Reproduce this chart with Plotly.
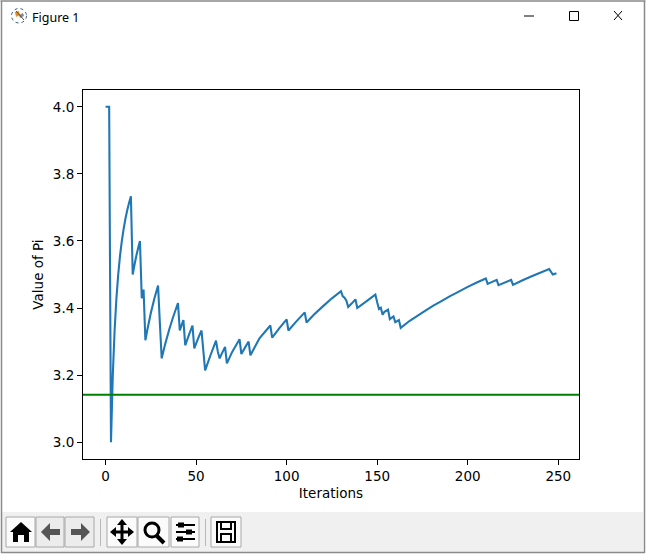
import plotly.graph_objects as go

iterations = [0, 2, 3, 4, 5, 6, 7, 8, 9, 10, 11, 12, 13, 14, 15, 16, 17, 18, 19, 20, 21, 22, 23, 25, 27, 29, 30, 31, 33, 35, 37, 40, 41, 42, 43, 44, 46, 48, 49, 51, 53, 54, 55, 58, 61, 62, 63, 64, 66, 67, 70, 74, 75, 77, 79, 80, 85, 91, 92, 96, 100, 101, 105, 110, 111, 115, 120, 125, 130, 131, 132, 133, 134, 136, 138, 139, 144, 149, 150, 151, 152, 153, 154, 156, 157, 159, 160, 162, 163, 168, 172, 176, 181, 185, 190, 194, 200, 205, 210, 211, 216, 217, 224, 225, 230, 235, 240, 245, 247, 249]
pi_values = [4.0, 4.0, 3.0, 3.2, 3.333, 3.429, 3.5, 3.556, 3.6, 3.636, 3.667, 3.692, 3.714, 3.733, 3.5, 3.529, 3.556, 3.579, 3.6, 3.429, 3.455, 3.304, 3.333, 3.385, 3.429, 3.467, 3.355, 3.25, 3.294, 3.333, 3.368, 3.415, 3.333, 3.349, 3.364, 3.289, 3.319, 3.348, 3.28, 3.308, 3.333, 3.273, 3.214, 3.26, 3.303, 3.27, 3.25, 3.262, 3.284, 3.235, 3.27, 3.307, 3.263, 3.282, 3.3, 3.259, 3.31, 3.348, 3.312, 3.34, 3.366, 3.333, 3.358, 3.387, 3.357, 3.38, 3.405, 3.429, 3.45, 3.435, 3.431, 3.422, 3.403, 3.414, 3.426, 3.4, 3.42, 3.44, 3.417, 3.397, 3.401, 3.38, 3.389, 3.395, 3.367, 3.375, 3.358, 3.364, 3.341, 3.362, 3.376, 3.39, 3.407, 3.419, 3.435, 3.446, 3.463, 3.476, 3.488, 3.472, 3.484, 3.468, 3.484, 3.469, 3.482, 3.494, 3.505, 3.516, 3.5, 3.504]
reference_pi = 3.14159
x_ticks = [0, 50, 100, 150, 200, 250]
y_ticks = [3.0, 3.2, 3.4, 3.6, 3.8, 4.0]
x_title = "Iterations"
y_title = "Value of Pi"
window_title = "Figure 1"

W, H = 646, 557
L, R, T, B = 83, 579, 90, 459
FONT = "DejaVu Sans"


def px(v):
    return (v - L) / (R - L)


def py(v):
    return (B - v) / (B - T)


shapes = []


def rect(x0, y0, x1, y1, fill=None, line=None, w=1):
    shapes.append(dict(type="rect", xref="paper", yref="paper", x0=px(x0), x1=px(x1), y0=py(y0), y1=py(y1),
                       fillcolor=fill or "rgba(0,0,0,0)", line=dict(color=line or "rgba(0,0,0,0)", width=w), layer="below"))


def seg(x0, y0, x1, y1, color="#000000", w=1):
    shapes.append(dict(type="line", xref="paper", yref="paper", x0=px(x0), x1=px(x1), y0=py(y0), y1=py(y1),
                       line=dict(color=color, width=w), layer="above"))


def poly(pts, fill="#000000"):
    path = "M " + " L ".join(f"{px(a):.5f},{py(b):.5f}" for a, b in pts) + " Z"
    shapes.append(dict(type="path", xref="paper", yref="paper", path=path, fillcolor=fill, line=dict(width=0), layer="above"))


def circle(x0, y0, x1, y1, line="#000000", w=2, dash="solid"):
    shapes.append(dict(type="circle", xref="paper", yref="paper", x0=px(x0), x1=px(x1), y0=py(y0), y1=py(y1),
                       line=dict(color=line, width=w, dash=dash), fillcolor="rgba(0,0,0,0)", layer="above"))


# window frame and toolbar
rect(2, 512, 643, 552, fill="#f0f0f0")
seg(0.5, 1, 645.5, 1, "#8a8a8a", 1.5)
seg(1.5, 1, 1.5, 553, "#8a8a8a", 1.5)
seg(644.5, 1, 644.5, 553, "#8a8a8a", 1.5)
seg(1, 552.5, 645, 552.5, "#8a8a8a", 1.5)

# title-bar controls
seg(524, 16, 534, 16, "#000000", 1)
rect(569.5, 11.5, 578.5, 20.5, line="#000000")
seg(614, 11, 622, 20, "#000000", 1)
seg(622, 11, 614, 20, "#000000", 1)

# window icon
circle(11.5, 8.5, 26.5, 23, line="#3f5f78", w=1, dash="dot")
poly([(15, 12), (19, 11), (20, 15), (16, 17)], "#e0912f")
poly([(19, 15), (23, 13), (24, 16), (20, 18)], "#8a8a8a")
seg(16, 11, 24, 20, "#5a4a3a", 1)

# buttons
for x0, x1, fill in [(6, 35, "#fbfbfb"), (36, 64, "#ececec"), (65, 94, "#ececec"), (107, 137, "#fbfbfb"),
                     (138, 169, "#fbfbfb"), (171, 199, "#fbfbfb"), (211, 241, "#fbfbfb")]:
    rect(x0, 517, x1, 547, fill=fill, line="#a8a8a8")
seg(100.5, 519, 100.5, 546, "#b8b8b8", 1)
seg(205.5, 519, 205.5, 546, "#b8b8b8", 1)

# home
poly([(10, 532), (21, 522), (32, 532), (29, 532), (29, 542), (24, 542), (24, 535), (18, 535), (18, 542), (13, 542), (13, 532)])
# back / forward
poly([(41, 532), (50, 523), (50, 529), (60, 529), (60, 535), (50, 535), (50, 541)], "#555555")
poly([(90, 532), (81, 523), (81, 529), (71, 529), (71, 535), (81, 535), (81, 541)], "#555555")
# pan
seg(122, 522, 122, 542, "#000000", 3)
seg(112, 532, 132, 532, "#000000", 3)
poly([(122, 519), (117, 525), (127, 525)])
poly([(122, 545), (117, 539), (127, 539)])
poly([(110, 532), (116, 527), (116, 537)])
poly([(134, 532), (128, 527), (128, 537)])
# zoom
circle(145, 523, 159, 537, w=3)
seg(157, 536, 164, 543, "#000000", 4)
# sliders
for yy, xx in [(525, 181), (532, 189), (539, 180)]:
    seg(176, yy, 195, yy, "#000000", 2)
    rect(xx - 3, yy - 2.5, xx + 3, yy + 2.5, fill="#000000")
# save
rect(217, 522, 235, 542, line="#000000", w=2)
rect(221, 522, 231, 529, line="#000000", w=2)
rect(221, 534, 231, 542, line="#000000", w=2)

fig = go.Figure()
fig.add_trace(go.Scatter(x=iterations, y=pi_values, mode="lines",
                         line=dict(color="#1f77b4", width=2.08, simplify=False), showlegend=False, hoverinfo="skip"))
fig.add_trace(go.Scatter(x=[-20, 300], y=[reference_pi, reference_pi], mode="lines",
                         line=dict(color="#008000", width=2.08), showlegend=False, hoverinfo="skip"))

axis = dict(showgrid=False, zeroline=False, showline=True, mirror=True, linecolor="#000000", linewidth=1,
            ticks="outside", ticklen=5, tickwidth=1, tickcolor="#000000",
            tickfont=dict(family=FONT, size=13.5, color="#000000"))
fig.update_xaxes(range=[-12.45, 261.45], tickvals=x_ticks, ticktext=[str(v) for v in x_ticks],
                 title=dict(text=x_title, font=dict(family=FONT, size=13.5, color="#000000"), standoff=5), **axis)
fig.update_yaxes(range=[2.95, 4.05], tickvals=y_ticks, ticktext=[f"{v:.1f}" for v in y_ticks],
                 title=dict(text=y_title, font=dict(family=FONT, size=13.5, color="#000000"), standoff=6), **axis)
fig.update_layout(width=W, height=H, autosize=False, paper_bgcolor="#ffffff", plot_bgcolor="#ffffff",
                  margin=dict(l=L, r=W - R, t=T, b=H - B, autoexpand=False), shapes=shapes,
                  annotations=[dict(text=window_title, xref="paper", yref="paper", x=px(30), y=py(17.5),
                                    xanchor="left", yanchor="middle", showarrow=False,
                                    font=dict(family="Noto Sans", size=12.5, color="#000000"))])
fig.write_html("out.html", config=dict(displayModeBar=False), post_script="document.body.style.margin='0';")
